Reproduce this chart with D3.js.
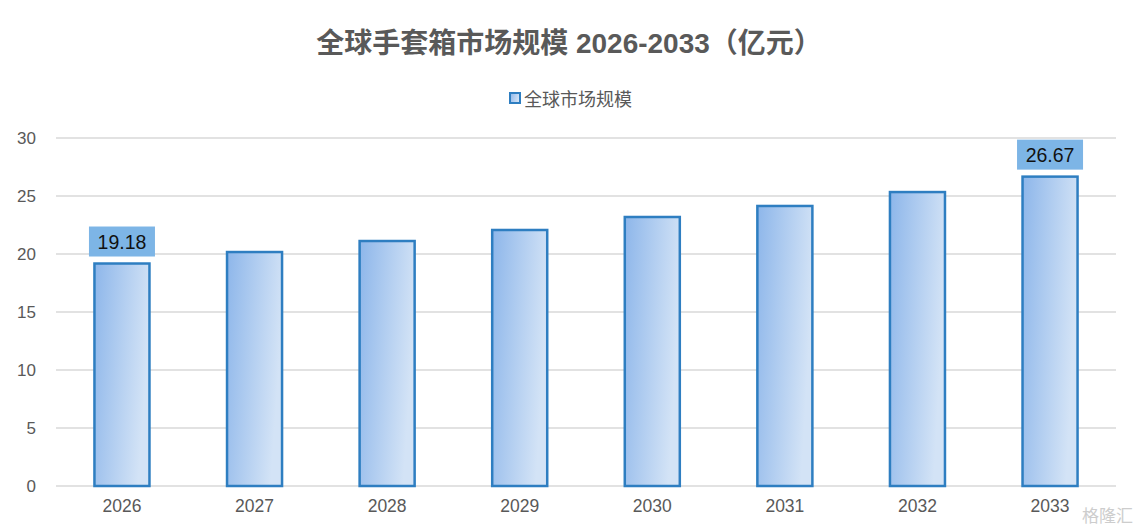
<!DOCTYPE html>
<html><head><meta charset="utf-8">
<script src="https://cdn.jsdelivr.net/npm/d3@7"></script>
<style>body{margin:0;background:#fff;}svg{display:block;font-family:"Liberation Sans","Noto Sans CJK SC",sans-serif;}</style>
</head><body><svg id="c" width="1139" height="532"></svg>
<script>
const categories = ["2026","2027","2028","2029","2030","2031","2032","2033"];
const values = [19.18, 20.17, 21.12, 22.07, 23.19, 24.14, 25.34, 26.67];
const yTicks = [0,5,10,15,20,25,30];
const labeledIdx = [0, 7];
const titleText = "全球手套箱市场规模 2026-2033（亿元）";
const seriesName = "全球市场规模";

const svg = d3.select("#c");
const m = {l:56, r:23, t:138, b:46};
const W = 1139, H = 532;
const x = d3.scaleBand().domain(categories).range([m.l, W - m.r]).paddingInner(0.585).paddingOuter(0.29);
const y = d3.scaleLinear().domain([0,30]).range([H - m.b, m.t]);

const defs = svg.append("defs");
const g = defs.append("linearGradient").attr("id","bg").attr("x1","0").attr("x2","1").attr("y1","0").attr("y2","0.3");
g.append("stop").attr("offset","0").attr("stop-color","#8DB6EA");
g.append("stop").attr("offset","1").attr("stop-color","#D3E3F6");

// title
svg.append("text").attr("x",569).attr("y",53).attr("text-anchor","middle")
  .attr("font-size",28).attr("font-weight","bold").attr("fill","#595959").text(titleText);

// legend
svg.append("rect").attr("x",510).attr("y",93).attr("width",10).attr("height",10)
  .attr("fill","url(#bg)").attr("stroke","#2E7EC1").attr("stroke-width",2);
svg.append("text").attr("x",524).attr("y",106).attr("font-size",18).attr("fill","#595959").text(seriesName);

// grid
svg.append("g").selectAll("line").data(yTicks).join("line")
  .attr("x1",m.l).attr("x2",W-m.r).attr("y1",d=>y(d)).attr("y2",d=>y(d))
  .attr("stroke","#D9D9D9").attr("stroke-width",1.5);

// y axis labels
const ya = svg.append("g").attr("transform",`translate(${m.l},0)`)
  .call(d3.axisLeft(y).tickValues(yTicks).tickSize(0).tickPadding(20));
ya.select(".domain").remove();
ya.selectAll("text").attr("font-size",17).attr("fill","#595959").attr("font-family","Liberation Sans, sans-serif");

// x axis labels
const xa = svg.append("g").attr("transform",`translate(0,${H-m.b})`)
  .call(d3.axisBottom(x).tickSize(0).tickPadding(14));
xa.select(".domain").remove();
xa.selectAll("text").attr("font-size",17.5).attr("fill","#595959").attr("font-family","Liberation Sans, sans-serif");

// bars
svg.append("g").selectAll("rect").data(values).join("rect")
  .attr("x",(d,i)=>x(categories[i])).attr("width",x.bandwidth())
  .attr("y",d=>y(d)).attr("height",d=>y(0)-y(d))
  .attr("fill","url(#bg)").attr("stroke","#2E7EC1").attr("stroke-width",2.5);

// labels
labeledIdx.forEach(i=>{
  const cx = x(categories[i]) + x.bandwidth()/2;
  const ty = y(values[i]);
  svg.append("rect").attr("x",cx-33).attr("y",ty-37).attr("width",66).attr("height",30).attr("fill","#7DB5E6");
  svg.append("text").attr("x",cx).attr("y",ty-15).attr("text-anchor","middle")
    .attr("font-size",19.5).attr("fill","#111").text(values[i].toFixed(2));
});

// watermark
svg.append("text").attr("x",1133).attr("y",522).attr("text-anchor","end")
  .attr("font-size",17).attr("fill","#C8C8C8").attr("opacity",0.9).text("格隆汇");
</script></body></html>
